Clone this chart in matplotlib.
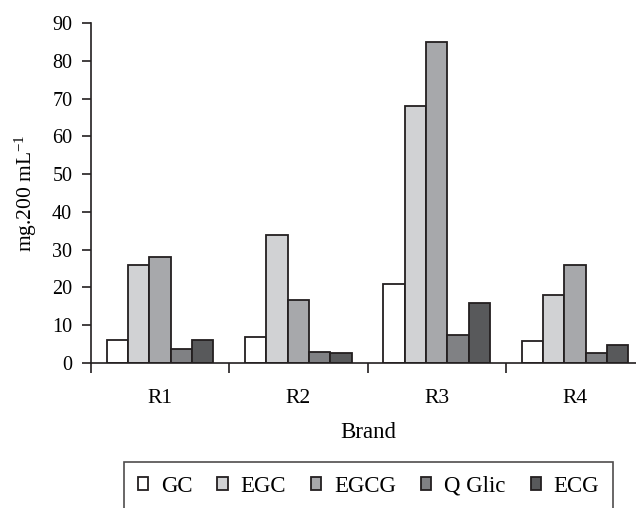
import numpy as np
import matplotlib
matplotlib.use("Agg")
import matplotlib.pyplot as plt

plt.rcParams["font.family"] = ["Liberation Serif", "DejaVu Serif"]
plt.rcParams["mathtext.fontset"] = "custom"
plt.rcParams["mathtext.rm"] = "Liberation Serif"
plt.rcParams["mathtext.it"] = "Liberation Serif:italic"

brands = ["R1", "R2", "R3", "R4"]
series = ["GC", "EGC", "EGCG", "Q Glic", "ECG"]
gc = [6, 6.8, 20.8, 5.9]
egc = [26, 34, 68, 18]
egcg = [28, 16.8, 85, 26]
q_glic = [3.7, 2.8, 7.5, 2.6]
ecg = [6.2, 2.6, 16, 4.8]
values = [gc, egc, egcg, q_glic, ecg]

colors = ["#ffffff", "#d1d2d4", "#a7a8ab", "#808184", "#58595b"]
edge = "#231f20"

fig = plt.figure(figsize=(6.36, 5.08), dpi=100)
# axes deliberately run past the right edge, as in the cropped original
ax = fig.add_axes([91 / 636, 1 - 363 / 508, (644 - 91) / 636, (363 - 23) / 508])

x = np.arange(len(brands))
w = 0.154
for i, (name, vals, c) in enumerate(zip(series, values, colors)):
    ax.bar(x + (i - 2) * w, vals, w, color=c, edgecolor=edge, linewidth=1.3,
           label=name)

ax.set_xlim(-0.5, 3.5)
ax.set_ylim(0, 90)
ax.set_yticks(range(0, 91, 10))
ax.set_xticks(x)
ax.set_xticklabels(brands)
ax.set_xticks(np.arange(-0.5, 4.0, 1.0), minor=True)
ax.tick_params(axis="x", which="major", length=0, pad=19, labelsize=15.5)
ax.tick_params(axis="x", which="minor", length=7, width=1.2, color=edge)
ax.tick_params(axis="y", length=6.5, width=1.2, color=edge, labelsize=14.5,
               pad=7)

for s in ["top", "right"]:
    ax.spines[s].set_visible(False)
for s in ["left", "bottom"]:
    ax.spines[s].set_color(edge)
    ax.spines[s].set_linewidth(1.2)

fig.text(26 / 636, 1 - 193 / 508, r"mg.200 mL$^{-1}$", rotation=90,
         ha="center", va="center", fontsize=15.5)
fig.text(368 / 636, 1 - 433 / 508, "Brand", ha="center", va="center",
         fontsize=16.5)

leg = fig.legend(loc="upper left", bbox_to_anchor=(124 / 636, 1 - 462 / 508),
                 ncol=5, fontsize=16.5, frameon=True, fancybox=False,
                 handlelength=0.45, handleheight=0.45, handletextpad=0.55,
                 columnspacing=1.1, borderpad=0.6, borderaxespad=0)
leg.get_frame().set_edgecolor(edge)
leg.get_frame().set_linewidth(1.2)

fig.savefig("out.png", dpi=100)
